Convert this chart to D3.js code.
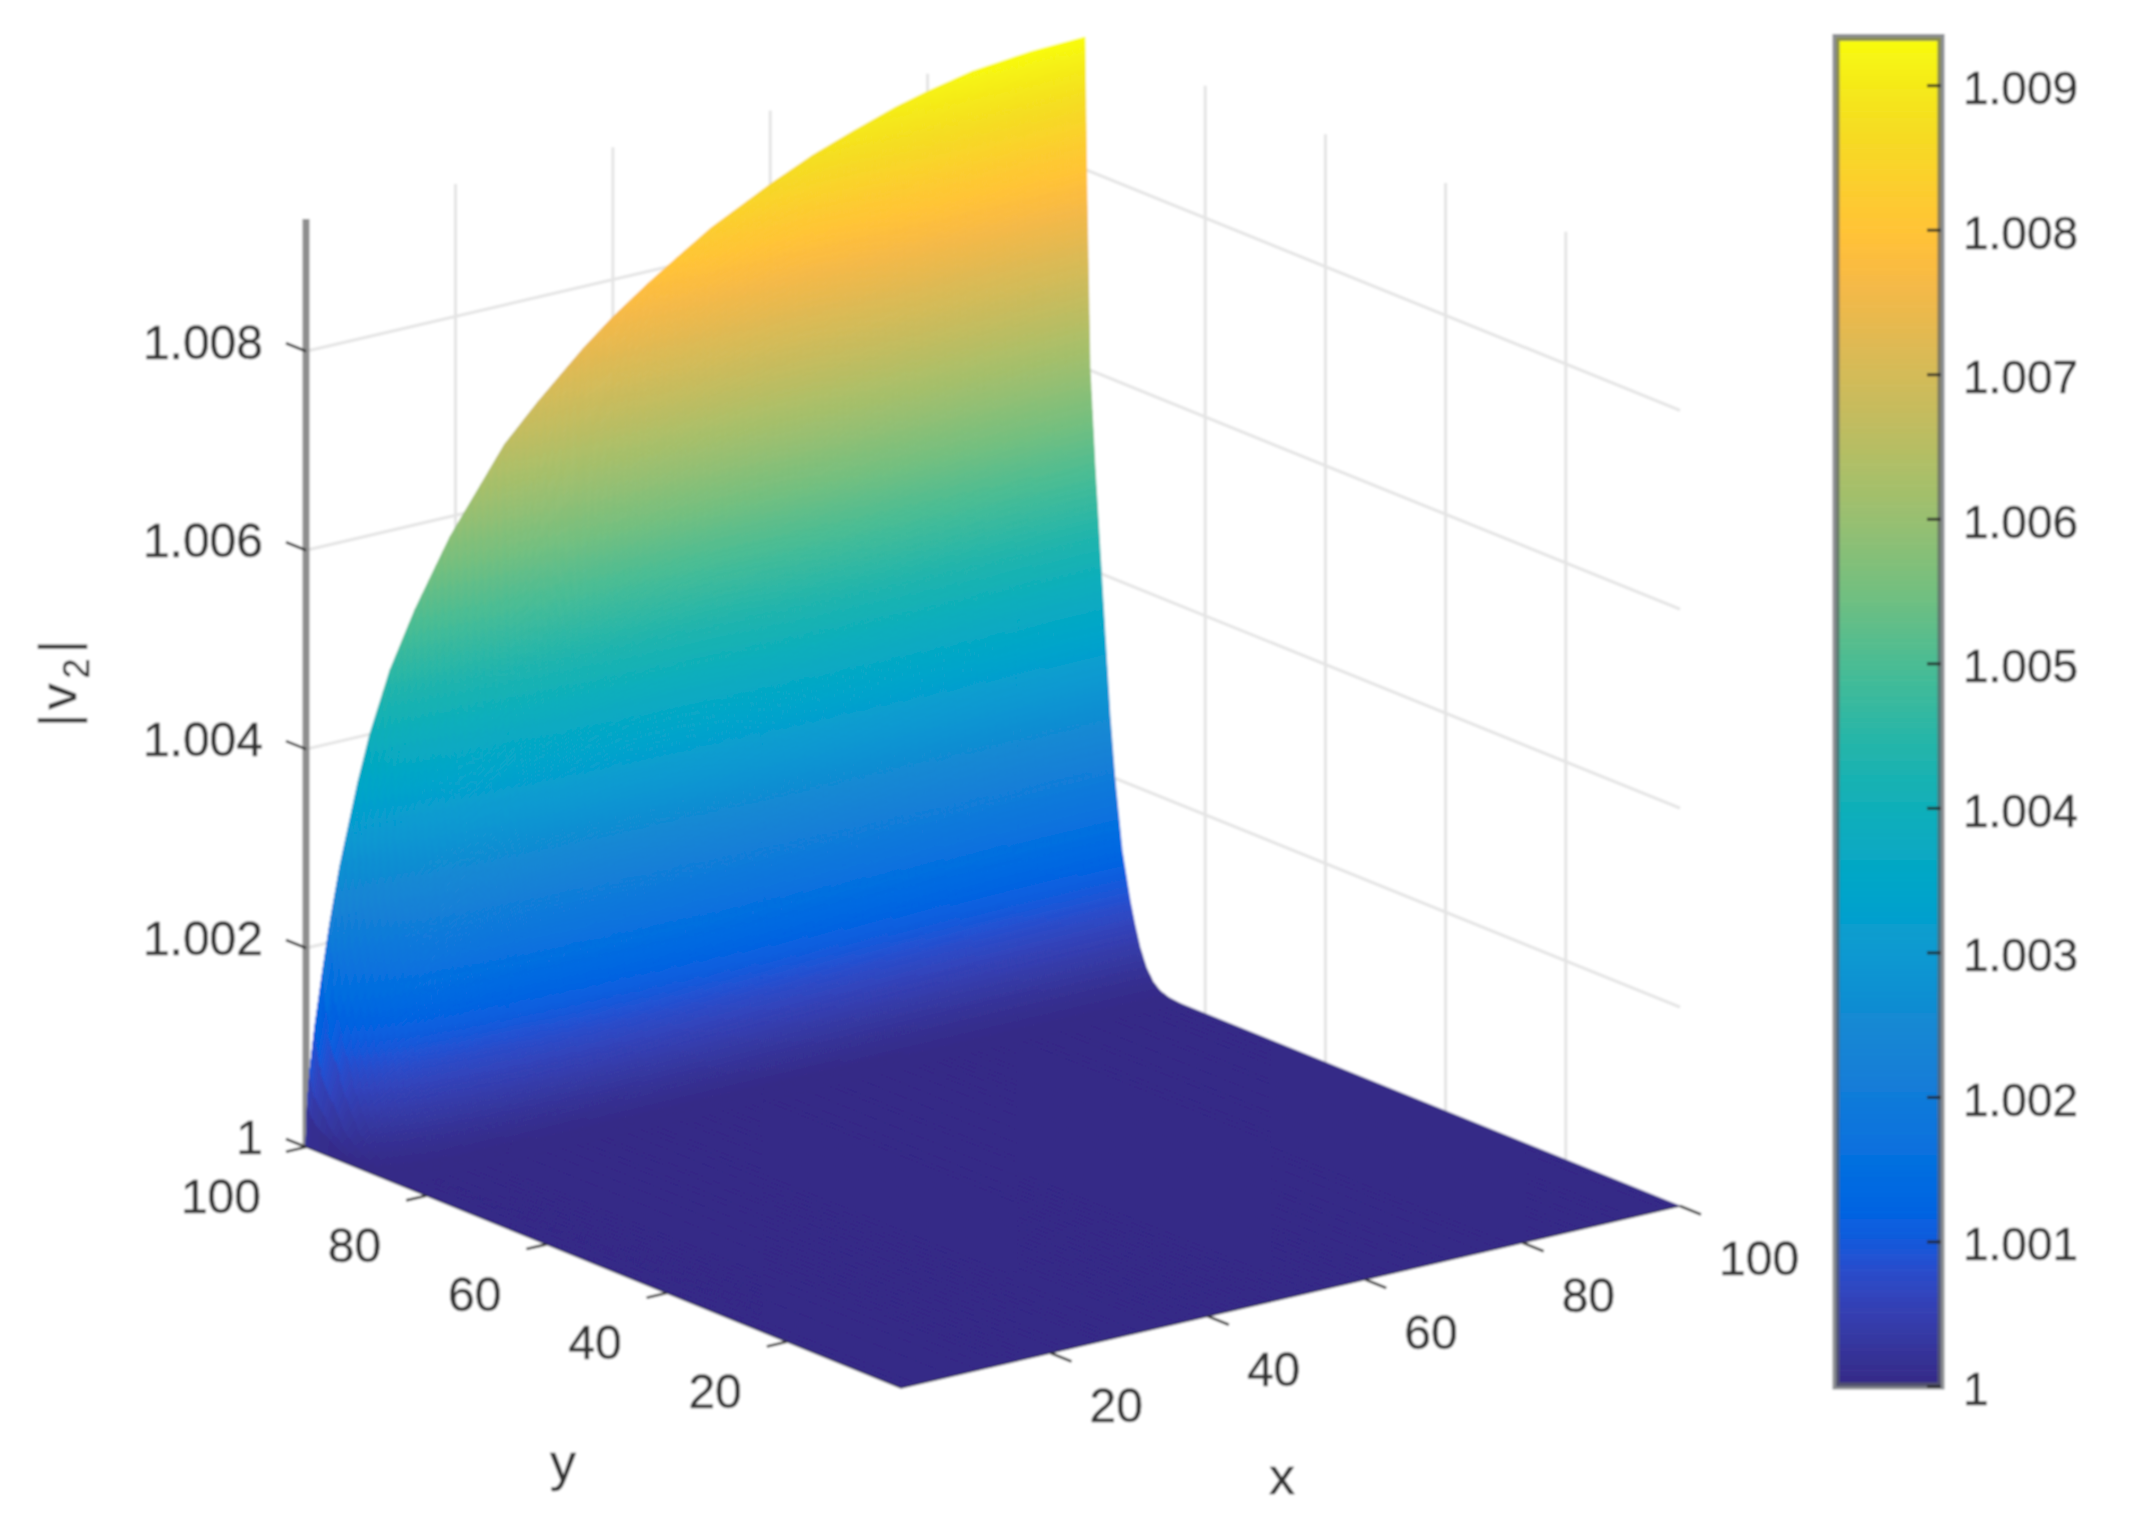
<!DOCTYPE html>
<html>
<head>
<meta charset="utf-8">
<script src="https://cdn.jsdelivr.net/npm/d3@7/dist/d3.min.js"></script>
<style>
html,body{margin:0;padding:0;background:#fff}
text{font-family:"Liberation Sans",Arial,sans-serif;fill:#333;stroke:#333;stroke-width:0.45px}
</style>
</head>
<body>
<svg id="chart" width="2135" height="1530" xmlns="http://www.w3.org/2000/svg"></svg>
<script>
// ---------- data ----------
const xTicks = [20, 40, 60, 80, 100];
const yTicks = [20, 40, 60, 80, 100];
const zTicks = [1, 1.002, 1.004, 1.006, 1.008];
const zTickLabels = ["1", "1.002", "1.004", "1.006", "1.008"];
const cbTicks = [1, 1.001, 1.002, 1.003, 1.004, 1.005, 1.006, 1.007, 1.008, 1.009];
const cbTickLabels = ["1", "1.001", "1.002", "1.003", "1.004", "1.005", "1.006", "1.007", "1.008", "1.009"];
const zLimits = [1, 1.00933];

// |v2| along the far edge y = 100, at these x
const wallX = [1, 1.2, 1.5, 2.15, 3.16, 4.05, 5.32, 7.61, 9.12, 11.69, 14.86, 19.32, 26.25, 30.5, 36.24, 39.9, 44.46, 48.12, 52.48, 60, 65.35, 70.6, 75.94, 79.8, 85.65, 93.07, 100];
const wallZ = [1, 1.00045, 1.00075, 1.0012, 1.00175, 1.0022, 1.00275, 1.00355, 1.004, 1.0046, 1.00515, 1.0058, 1.0066, 1.00695, 1.00738, 1.00762, 1.00788, 1.00807, 1.00829, 1.00859, 1.00878, 1.00893, 1.00907, 1.00915, 1.00925, 1.00931, 1.00933];

// share of the far-edge rise left at each y (steep layer next to y = 100)
const layerY = [100, 99.85, 99.66, 99.17, 98.34, 97, 95.84, 95, 93.84, 92.5, 91.7, 90.85, 89.8, 88.7, 87.5, 86, 84, 1];
const layerShare = [1, 0.92, 0.826, 0.645, 0.542, 0.40, 0.279, 0.212, 0.14, 0.089, 0.065, 0.043, 0.024, 0.012, 0.005, 0.0015, 0, 0];

// parula colour map
const parula = ["#352a87","#363093","#3637a0","#353dad","#3243ba","#2c4ac7","#2053d4","#0f5cdd","#0363e1","#0268e1","#046de0","#0871de","#0d75dc","#1079da","#127dd8","#1481d6","#1485d4","#1389d3","#108ed2","#0c93d2","#0998d1","#079ccf","#06a0cd","#06a4ca","#06a7c6","#07a9c2","#0aacbe","#0fafb9","#15b1b4","#1db3af","#25b5a9","#2eb7a4","#38b99e","#42bb98","#4dbc92","#59bd8c","#65be86","#71bf80","#7cbf7b","#87bf77","#92bf73","#9cbf6f","#a5bf6a","#aebf67","#b7bd63","#c0bc60","#c8bb5c","#d1bb59","#d9ba56","#e1b952","#e9b94e","#f1b94a","#f8ba44","#fdbe3d","#ffc337","#fec832","#fccd2e","#fad32a","#f7d826","#f5de21","#f5e41d","#f5eb18","#f6f313","#f9fb0e"];

// ---------- scales ----------
const corner = {x: 901, y: 1388};            // screen position of x = 1, y = 1, |v2| = 1
const xToSx = d3.scaleLinear([1, 100], [0, 779]);
const xToSy = d3.scaleLinear([1, 100], [0, -182]);
const yToSx = d3.scaleLinear([1, 100], [0, -595]);
const yToSy = d3.scaleLinear([1, 100], [0, -241]);
const zToSy = d3.scaleLinear(zLimits, [0, -928]);
const project = (x, y, z) => [
  corner.x + xToSx(x) + yToSx(y),
  corner.y + xToSy(x) + yToSy(y) + zToSy(z)
];
const wallScale = d3.scaleLinear(wallX, wallZ);
const layerScale = d3.scaleLinear(layerY, layerShare);
const levels = d3.quantize(d3.piecewise(d3.interpolateRgb, parula), 256);
const colour = d3.scaleQuantize(zLimits, levels);
const surfaceZ = (x, y) => 1 + (wallScale(x) - 1) * layerScale(y);

// mesh lines: each read-off interval is cut finely enough for a smooth colour ramp
function meshLines(stops, size) {
  const out = [stops[0]];
  d3.pairs(stops).forEach(([a, b]) => {
    const n = Math.max(1, Math.ceil(size(a, b)));
    for (let i = 1; i <= n; i++) out.push(a + (b - a) * i / n);
  });
  return out;
}
const meshX = meshLines(wallX, (a, b) => Math.abs(xToSx(b) - xToSx(a)) / 8);
const meshY = meshLines(layerY, (a, b) => Math.abs(layerScale(a) - layerScale(b)) * 928 / 2.5);

// ---------- drawing ----------
const svg = d3.select("#chart");
const defs = svg.append("defs");
defs.append("filter").attr("id", "soft")
  .attr("filterUnits", "userSpaceOnUse")
  .attr("x", 0).attr("y", 0).attr("width", 2135).attr("height", 1530)
  .append("feGaussianBlur").attr("stdDeviation", 1.1);
const root = svg.append("g").attr("filter", "url(#soft)");
root.append("rect").attr("width", 2135).attr("height", 1530).attr("fill", "#fff");

const line3 = (a, b) => { const p = project(...a), q = project(...b); return `M${p[0]},${p[1]}L${q[0]},${q[1]}`; };

// grid on the two back planes
const grid = root.append("g").attr("fill", "none").attr("stroke", "#e4e4e4").attr("stroke-width", 3);
xTicks.filter(t => t < 100).forEach(t => grid.append("path").attr("d", line3([t, 100, zLimits[0]], [t, 100, zLimits[1]])));
yTicks.filter(t => t < 100).forEach(t => grid.append("path").attr("d", line3([100, t, zLimits[0]], [100, t, zLimits[1]])));
zTicks.filter(t => t > 1).forEach(t => {
  grid.append("path").attr("d", line3([1, 100, t], [100, 100, t]));
  grid.append("path").attr("d", line3([100, 100, t], [100, 1, t]));
});

// z axis line
root.append("path").attr("d", line3([1, 100, zLimits[0]], [1, 100, zLimits[1]]))
  .attr("stroke", "#8e8e8e").attr("stroke-width", 7).attr("fill", "none");

// surface: quads gathered by colour level
const buckets = new Map();
for (let j = 0; j < meshY.length - 1; j++) {
  for (let i = 0; i < meshX.length - 1; i++) {
    const x0 = meshX[i], x1 = meshX[i + 1], y0 = meshY[j], y1 = meshY[j + 1];
    const c = colour((surfaceZ(x0, y0) + surfaceZ(x1, y0) + surfaceZ(x0, y1) + surfaceZ(x1, y1)) / 4);
    const pts = [project(x0, y0, surfaceZ(x0, y0)), project(x1, y0, surfaceZ(x1, y0)),
                 project(x1, y1, surfaceZ(x1, y1)), project(x0, y1, surfaceZ(x0, y1))];
    const d = "M" + pts.map(p => p[0].toFixed(1) + "," + p[1].toFixed(1)).join("L") + "Z";
    if (!buckets.has(c)) buckets.set(c, []);
    buckets.get(c).push(d);
  }
}
root.append("g").selectAll("path").data([...buckets]).join("path")
  .attr("d", d => d[1].join(""))
  .attr("fill", d => d[0]).attr("stroke", d => d[0]).attr("stroke-width", 0.8);

// floor edges and ticks
const axes = root.append("g").attr("fill", "none").attr("stroke", "#2a2a3c");
axes.append("path").attr("d", line3([1, 1, 1], [100, 1, 1])).attr("stroke-width", 1.5).attr("opacity", 0.7);
axes.append("path").attr("d", line3([1, 1, 1], [1, 100, 1])).attr("stroke-width", 1.5).attr("opacity", 0.7);
const ticks = root.append("g").attr("fill", "none").attr("stroke", "#333").attr("stroke-width", 2.6);
const tick = (p, dx, dy) => ticks.append("path").attr("d", `M${p[0]},${p[1]}l${dx},${dy}`);
xTicks.forEach(t => tick(project(t, 1, 1), 21, 8.5));
yTicks.forEach(t => tick(project(1, t, 1), -20, 4.7));
zTicks.forEach(t => tick(project(1, 100, t), -20, -8));

// tick labels
const labels = root.append("g").attr("font-size", 48);
xTicks.forEach(t => { const p = project(t, 1, 1);
  labels.append("text").attr("x", p[0] + 39).attr("y", p[1] + 52).attr("dy", "0.36em").attr("text-anchor", "start").text(t); });
yTicks.forEach(t => { const p = project(1, t, 1);
  labels.append("text").attr("x", p[0] - 45).attr("y", p[1] + 49).attr("dy", "0.36em").attr("text-anchor", "end").text(t); });
zTicks.forEach((t, i) => { const p = project(1, 100, t);
  labels.append("text").attr("x", p[0] - 43).attr("y", p[1] - 10).attr("dy", "0.36em").attr("text-anchor", "end").text(zTickLabels[i]); });

// axis titles
root.append("text").attr("x", 563).attr("y", 1480).attr("font-size", 52).attr("text-anchor", "middle").text("y");
root.append("text").attr("x", 1282).attr("y", 1494).attr("font-size", 52).attr("text-anchor", "middle").text("x");
const zt = root.append("text").attr("transform", "translate(75.5,727) rotate(-90)").attr("font-size", 52);
zt.append("tspan").text("|");
zt.append("tspan").attr("dx", 4).text("v");
zt.append("tspan").attr("dy", 13).attr("dx", 5).attr("font-size", 36).text("2");
zt.append("tspan").attr("dy", -13).attr("dx", 5).text("|");

// colour bar
const cb = {left: 1836, right: 1941, top: 37.5, bottom: 1386};
const cbScale = d3.scaleLinear(zLimits, [cb.bottom, cb.top]);
const cbGroup = root.append("g");
const edges = [zLimits[0], ...colour.thresholds()];
cbGroup.selectAll("rect").data(levels).join("rect")
  .attr("x", cb.left).attr("width", cb.right - cb.left)
  .attr("y", (c, i) => cbScale(i === levels.length - 1 ? zLimits[1] : edges[i + 1]))
  .attr("height", (c, i) => cbScale(edges[i]) - cbScale(i === levels.length - 1 ? zLimits[1] : edges[i + 1]) + 0.6)
  .attr("fill", c => c);
root.append("rect").attr("x", cb.left).attr("y", cb.top)
  .attr("width", cb.right - cb.left).attr("height", cb.bottom - cb.top)
  .attr("fill", "none").attr("stroke", "#5e6268").attr("stroke-opacity", 0.72).attr("stroke-width", 7);
const cbAxis = d3.axisRight(cbScale).tickValues(cbTicks)
  .tickFormat((d, i) => cbTickLabels[i]).tickSizeInner(-14).tickSizeOuter(0).tickPadding(22);
const cbAxisG = root.append("g").attr("transform", `translate(${cb.right},0)`).call(cbAxis);
cbAxisG.select(".domain").remove();
cbAxisG.attr("font-family", null).attr("font-size", null);
cbAxisG.selectAll("line").attr("stroke", "#222").attr("stroke-width", 3).attr("stroke-opacity", 0.85);
cbAxisG.selectAll("text").attr("font-size", 46).attr("dy", "0.40em").attr("fill", "#333");
</script>
</body>
</html>
